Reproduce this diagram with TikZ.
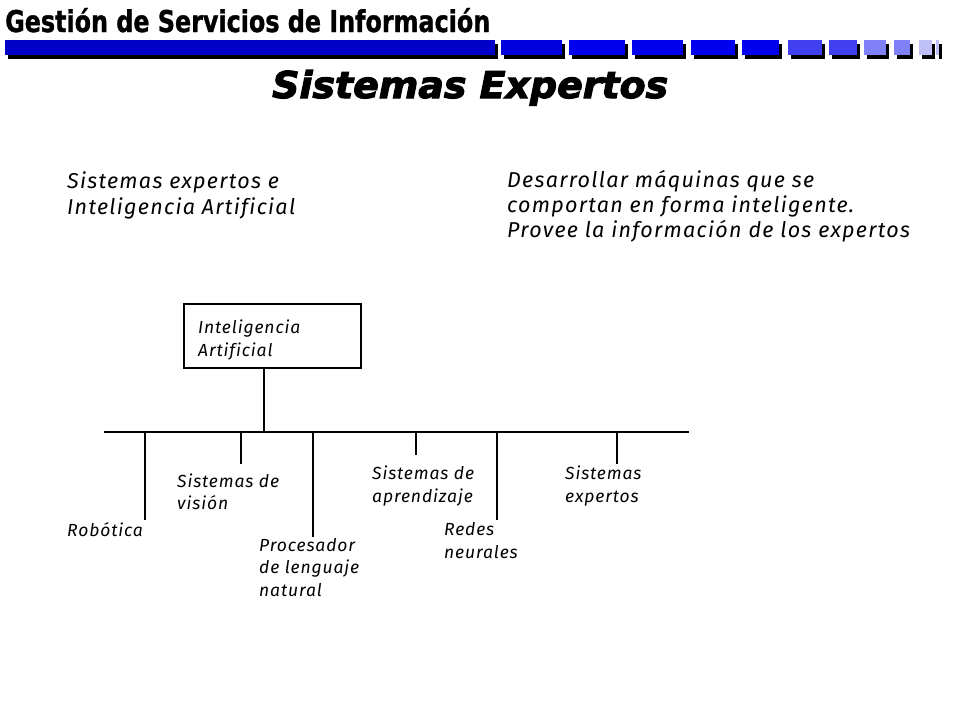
\documentclass[tikz,border=0pt]{standalone}
\usepackage{fontspec}
\newfontfamily\headfont{DejaVu Sans}[BoldFeatures={FakeBold=1.2}]
\newfontfamily\titlefont{DejaVu Sans}[BoldItalicFeatures={FakeBold=3}]
\newfontfamily\bodyfont{Fira Sans}[LetterSpace=6,Ligatures=CommonOff]
\newfontfamily\smallfont{Fira Sans}[LetterSpace=5,Ligatures=CommonOff]
\definecolor{barA}{RGB}{0,0,200}
\definecolor{barB}{RGB}{0,0,220}
\definecolor{barC}{RGB}{0,0,238}
\definecolor{barD}{RGB}{64,64,240}
\definecolor{barE}{RGB}{128,128,248}
\definecolor{barF}{RGB}{192,192,248}
\tikzset{
  bodytxt/.style={anchor=base west, inner sep=0pt, font=\bodyfont\itshape\fontsize{21.5}{26}\selectfont},
  smalltxt/.style={anchor=base west, inner sep=0pt, font=\smallfont\itshape\fontsize{17.5}{23}\selectfont},
  wire/.style={draw=black, line width=1.2pt},
  iabox/.style={draw=black, line width=1.2pt, minimum width=177pt, minimum height=64pt, inner sep=0pt},
}
\newcommand{\barseg}[3]{%
  \fill[black] (#1+3,44) rectangle (#2+3,59);
  \fill[#3] (#1,40) rectangle (#2,55);}
\begin{document}
\begin{tikzpicture}[x=1pt,y=-1pt]
\useasboundingbox (0,0) rectangle (960,720);
\fill[white] (0,0) rectangle (960,720);
% header
\node[anchor=base west, inner sep=0pt] (head) at (5,32)
  {\resizebox{485pt}{24pt}{\headfont\bfseries Gestión de Servicios de Información}};
\barseg{5}{495}{barA}
\barseg{501}{562}{barB}
\barseg{569}{625}{barC}
\barseg{632}{683}{barC}
\barseg{691}{735}{barC}
\barseg{742}{779}{barC}
\barseg{788}{822}{barD}
\barseg{829}{857}{barD}
\barseg{864}{886}{barE}
\barseg{894}{910}{barE}
\barseg{919}{932}{barF}
\barseg{936}{939}{barF}
% title
\node[anchor=base west, inner sep=0pt] (title) at (272,98)
  {\resizebox{396pt}{28pt}{\titlefont\bfseries\itshape Sistemas Expertos}};
% body texts
\node[bodytxt] (left) at (67,188)
  {\parbox[t]{330pt}{\raggedright Sistemas expertos e\\Inteligencia Artificial}};
\node[bodytxt] (right) at (507,187)
  {\parbox[t]{440pt}{\raggedright\baselineskip=25pt Desarrollar máquinas que se\\comportan en forma inteligente.\\Provee la información de los expertos}};
% diagram
\node[iabox] (ia) at (272.5,336) {};
\node[smalltxt] (iat) at (198,333) {\parbox[t]{150pt}{\raggedright Inteligencia\\Artificial}};
\coordinate (stemtop) at (264,368);
\coordinate (stembot) at (264,432);
\coordinate (busL) at (104,432);
\coordinate (busR) at (689,432);
\draw[wire] (stemtop) -- (stembot);
\draw[wire] (busL) -- (busR);
% drops
\coordinate (d1t) at (145,432); \coordinate (d1b) at (145,520);
\coordinate (d2t) at (241,432); \coordinate (d2b) at (241,464);
\coordinate (d3t) at (313,432); \coordinate (d3b) at (313,537);
\coordinate (d4t) at (416,432); \coordinate (d4b) at (416,455);
\coordinate (d5t) at (497,432); \coordinate (d5b) at (497,520);
\coordinate (d6t) at (617,432); \coordinate (d6b) at (617,464);
\foreach \i in {1,...,6} {\draw[wire] (d\i t) -- (d\i b);}
% labels
\node[smalltxt] (rob) at (67,536) {Robótica};
\node[smalltxt] (vis) at (177,487) {\parbox[t]{150pt}{\raggedright\baselineskip=22pt Sistemas de\\visión}};
\node[smalltxt] (pln) at (259,551) {\parbox[t]{150pt}{\raggedright\baselineskip=22.5pt Procesador\\de lenguaje\\natural}};
\node[smalltxt] (apr) at (372,479) {\parbox[t]{150pt}{\raggedright Sistemas de\\aprendizaje}};
\node[smalltxt] (red) at (444,535) {\parbox[t]{150pt}{\raggedright Redes\\neurales}};
\node[smalltxt] (exp) at (565,479) {\parbox[t]{150pt}{\raggedright Sistemas\\expertos}};
\end{tikzpicture}
\end{document}
